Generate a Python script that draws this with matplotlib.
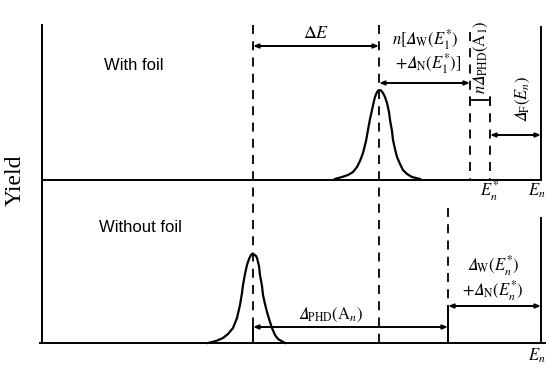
import matplotlib
matplotlib.use('Agg')
import matplotlib.pyplot as plt

plt.rcParams['font.family'] = ['Liberation Serif', 'DejaVu Serif']
plt.rcParams['mathtext.fontset'] = 'stix'

# peak outlines (pixel coords, y down)
top_peak_x = [335, 342, 348, 353, 357, 360, 363, 366, 368, 370, 372, 374, 375, 377, 379,
              381, 383, 385, 387, 389, 390, 392, 393, 395, 397, 400, 403, 407, 412, 420]
top_peak_y = [179, 177, 175, 172, 167, 161, 153, 141, 130, 119, 110, 101, 97, 92, 90,
              90.5, 93, 97, 103, 112, 120, 131, 140, 149, 157, 164, 170, 174, 177, 179]
bot_peak_x = [208, 216, 223, 228, 233, 237, 240, 242, 243, 245, 247, 249, 251, 252, 254,
              256, 257, 259, 260, 262, 263, 265, 267, 270, 272, 275, 278, 285]
bot_peak_y = [343, 341, 338, 334, 328, 318, 305, 293, 285, 274, 265, 259, 255, 254, 254.5,
              256, 258, 266, 275, 286, 295, 304, 312, 322, 328, 335, 339, 343]

# energy marks
x_left, x_right = 42, 541
x_bot_peak, x_top_peak = 253, 379
x_a, x_b, x_c = 470, 490, 448
y_top_base, y_bot_base = 180, 343

fig = plt.figure(figsize=(5.46, 3.66), dpi=100)
ax = fig.add_axes([0, 0, 1, 1])
ax.set_xlim(0, 546)
ax.set_ylim(366, 0)
ax.axis('off')

k = dict(color='black', lw=1.4)
ax.plot([x_left, x_left], [25, y_bot_base], **k)
ax.plot([x_left, x_right], [y_top_base, y_top_base], **k)
ax.plot([x_left - 2, 545], [y_bot_base, y_bot_base], **k)
ax.plot([x_right, x_right], [27, y_top_base], **k)
ax.plot([x_right, x_right], [218, y_bot_base], **k)

ax.plot(top_peak_x, top_peak_y, color='black', lw=1.6, solid_joinstyle='round')
ax.plot(bot_peak_x, bot_peak_y, color='black', lw=1.6, solid_joinstyle='round')

d = dict(color='black', lw=1.3, ls=(0, (5, 4)))
ax.plot([x_bot_peak, x_bot_peak], [25, y_bot_base], **d)
ax.plot([x_top_peak, x_top_peak], [25, y_bot_base], **d)
ax.plot([x_a, x_a], [32, y_top_base], **d)
ax.plot([x_b, x_b], [97, y_top_base], **d)
ax.plot([x_c, x_c], [208, y_bot_base], **d)

# solid end ticks of bottom arrows
ax.plot([x_bot_peak, x_bot_peak], [327, y_bot_base], **k)
ax.plot([x_c, x_c], [306, y_bot_base], **k)

def arrow(x0, x1, y):
    ax.annotate('', xy=(x1, y), xytext=(x0, y),
                arrowprops=dict(arrowstyle='<->,head_length=0.3,head_width=0.12',
                                color='black', lw=1.4, shrinkA=0, shrinkB=0))

arrow(x_bot_peak, x_top_peak, 46)
arrow(x_top_peak, x_a, 83)
arrow(x_b, x_right, 135)
arrow(x_bot_peak, x_c, 327)
arrow(x_c, x_right, 306)
ax.annotate('', xy=(x_b, 100), xytext=(x_a, 100),
            arrowprops=dict(arrowstyle='|-|,widthA=0.25,widthB=0.25',
                            color='black', lw=1.3, shrinkA=0, shrinkB=0))

fs = 12
D = '\U0001D6E5'  # italic capital delta
ax.text(15, 180, 'Yield', rotation=90, fontsize=17, ha='center', va='center')
ax.text(134, 66, 'With foil', fontsize=12, ha='center', va='center',
        family=['Liberation Sans'])
ax.text(140, 227, 'Without foil', fontsize=12, ha='center', va='center',
        family=['Liberation Sans'])
ax.text(316, 34, r'$\Delta E$', fontsize=13, ha='center', va='center')
ax.text(425, 40, r'$n[' + D + r'_{\mathrm{W}}(E_{1}^{*})$', fontsize=fs, ha='center', va='center')
ax.text(428, 64, r'$+' + D + r'_{\mathrm{N}}(E_{1}^{*})]$', fontsize=fs, ha='center', va='center')
ax.text(481, 57, r'$n' + D + r'_{\mathrm{PHD}}(\mathrm{A}_{1})$', fontsize=fs, rotation=90,
        ha='center', va='center')
ax.text(523, 99, r'$' + D + r'_{\mathrm{F}}(E_{n})$', fontsize=fs, rotation=90,
        ha='center', va='center')
ax.text(490, 191, r'$E_{n}^{*}$', fontsize=fs, ha='center', va='center')
ax.text(537, 191, r'$E_{n}$', fontsize=fs, ha='center', va='center')
ax.text(493, 266, r'$' + D + r'_{\mathrm{W}}(E_{n}^{*})$', fontsize=fs, ha='center', va='center')
ax.text(493, 291, r'$+' + D + r'_{\mathrm{N}}(E_{n}^{*})$', fontsize=fs, ha='center', va='center')
ax.text(331, 315, r'$' + D + r'_{\mathrm{PHD}}(\mathrm{A}_{n})$', fontsize=fs, ha='center', va='center')
ax.text(537, 356, r'$E_{n}$', fontsize=fs, ha='center', va='center')

fig.savefig('out.png', dpi=100)
